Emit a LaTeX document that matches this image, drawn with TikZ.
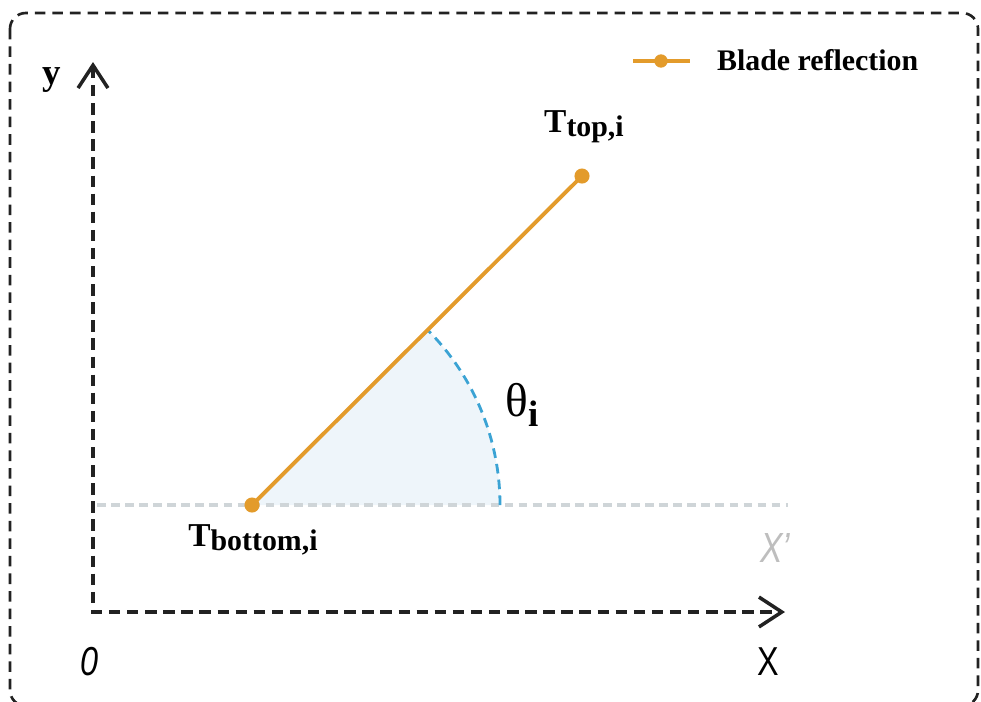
\documentclass[tikz,border=0pt]{standalone}
\usepackage{fontspec}
\setmainfont{Liberation Serif}
\setsansfont{Liberation Sans}
\usepackage{xcolor}
\usetikzlibrary{arrows.meta}

\definecolor{bladeorange}{HTML}{E39B2B}
\definecolor{angleblue}{HTML}{3BA3D4}
\definecolor{anglefill}{HTML}{EEF5FA}
\definecolor{refgray}{HTML}{CFD5D8}
\definecolor{primegray}{HTML}{BEBEBE}
\definecolor{axisdark}{HTML}{222222}

\newcommand{\tlabel}[1]{{\fontsize{19}{21}\selectfont\bfseries T}\raisebox{-0.55ex}{\fontsize{17}{19}\selectfont\bfseries #1}}
\newcommand{\narrow}[1]{\scalebox{0.8}[1]{#1}}

\begin{document}
\begin{tikzpicture}[x=0.02cm,y=-0.02cm,>={Straight Barb[length=13pt,width=17pt,line width=2pt]}]
\useasboundingbox(0,0)rectangle(981,701);
% frame
\draw[axisdark,line width=1.5pt,dash pattern=on 6pt off 4pt,rounded corners=9pt](10,13)rectangle(978,706);
% points
\coordinate(O)at(93,612);
\coordinate(ytip)at(93,62);
\coordinate(xtip)at(785,612);
\coordinate(refstart)at(97,505);
\coordinate(refend)at(788,505);
\coordinate(bottom)at(252,505);
\coordinate(top)at(582,176);
\coordinate(arcstart)at(500,505);
% angle sector
\fill[anglefill](bottom)--(arcstart)arc[start angle=0,end angle=-45,radius=248]--cycle;
\draw[refgray,line width=1.8pt,dash pattern=on 5pt off 3pt](refstart)--(refend);
\draw[angleblue,line width=1.6pt,dash pattern=on 5.5pt off 3.5pt](arcstart)arc[start angle=0,end angle=-45,radius=248];
% axes
\draw[<->,axisdark,line width=2.2pt,dash pattern=on 6.5pt off 3.8pt](ytip)--(O)--(xtip);
\node[font=\fontsize{21}{23}\selectfont\bfseries](ylab)at(52,80){y};
\node[font=\sffamily\itshape\fontsize{23}{25}\selectfont](zero)at(89,662){\narrow{0}};
\node[font=\sffamily\fontsize{23}{25}\selectfont](xlab)at(768,662){\narrow{X}};
\node[font=\sffamily\itshape\fontsize{24}{26}\selectfont,text=primegray](xprime)at(775,548){\narrow{X’}};
% blade
\draw[bladeorange,line width=2.2pt](bottom)--(top);
\fill[bladeorange](bottom)circle(4.3pt)(top)circle(4.3pt);
\node(tbottom)at(253,540){\tlabel{bottom,i}};
\node(ttop)at(584,127){\tlabel{top,i}};
\node[font=\fontsize{27}{29}\selectfont](theta)at(522,405){θ\raisebox{-0.45ex}{\fontsize{21}{23}\selectfont\bfseries i}};
% legend
\coordinate(legA)at(633,61);
\coordinate(legB)at(690,61);
\coordinate(legdot)at(661,61);
\draw[bladeorange,line width=2pt](legA)--(legB);
\fill[bladeorange](legdot)circle(3.8pt);
\node[anchor=west,font=\fontsize{17}{20}\selectfont\bfseries](legtext)at(711,60){Blade reflection};
\end{tikzpicture}
\end{document}
